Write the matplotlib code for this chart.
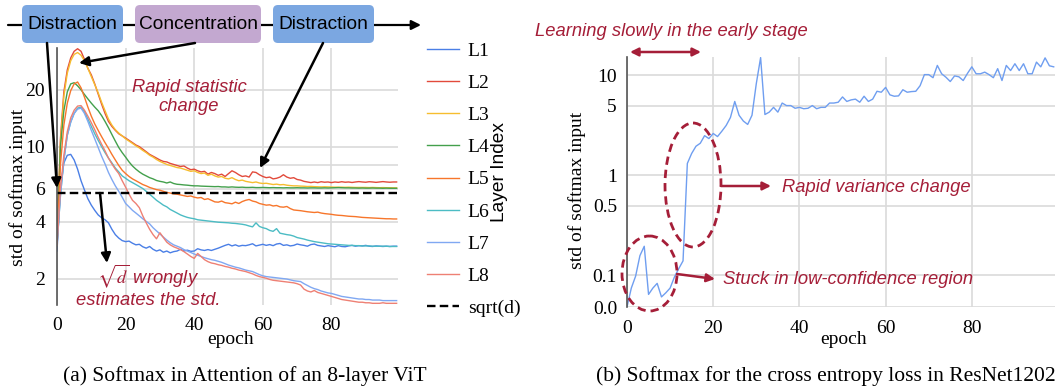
import numpy as np
import matplotlib
matplotlib.use('Agg')
import matplotlib.pyplot as plt
from matplotlib.patches import FancyBboxPatch, Ellipse
from matplotlib.ticker import FixedLocator, NullLocator, FixedFormatter

plt.rcParams['font.family'] = ['Liberation Serif', 'DejaVu Serif']
plt.rcParams['mathtext.fontset'] = 'stix'

# ---------------- data ----------------
epochs = np.arange(100)
layer_names = ['L1', 'L2', 'L3', 'L4', 'L5', 'L6', 'L7', 'L8']

L1 = [2.8, 6.0, 8.2, 9.0, 9.1, 8.5, 7.6, 6.6, 5.9, 5.3,
      4.9, 4.6, 4.35, 4.2, 4.1, 3.95, 3.65, 3.42, 3.28, 3.18,
      3.14, 3.16, 3.08, 3.02, 3.04, 2.95, 2.9, 2.96, 2.86, 2.8,
      2.84, 2.76, 2.8, 2.74, 2.78, 2.8, 2.86, 2.8, 2.83, 2.79,
      2.8, 2.88, 2.84, 2.82, 2.85, 2.82, 2.86, 2.9, 2.95, 3.0,
      3.04, 2.98, 3.02, 2.97, 3.0, 2.99, 3.02, 3.06, 2.98, 3.01,
      3.04, 3.0, 3.03, 2.99, 3.05, 3.07, 3.0, 3.02, 2.98, 3.0,
      3.05, 3.02, 3.0, 2.97, 3.03, 3.05, 3.0, 2.98, 2.96, 2.99,
      2.97, 2.95, 2.99, 2.96, 2.95, 2.98, 3.0, 2.97, 2.99, 2.98,
      3.0, 2.97, 2.96, 2.98, 2.97, 2.96, 2.97, 2.96, 2.97, 2.97]

L2 = [3.0, 11.0, 19.5, 25.5, 29.5, 32.0, 33.0, 32.0, 29.0, 26.0,
      24.0, 21.5, 19.0, 16.8, 15.0, 13.6, 12.8, 12.2, 11.7, 11.4,
      11.1, 10.8, 10.5, 10.2, 10.0, 9.7, 9.4, 9.1, 8.9, 8.7,
      8.5, 8.35, 8.3, 8.15, 8.05, 7.95, 7.85, 7.9, 7.7, 7.55,
      7.6, 7.45, 7.35, 7.4, 7.15, 7.3, 7.2, 7.05, 7.15, 6.95,
      7.2, 7.45, 7.3, 7.1, 6.95, 7.0, 6.9, 7.35, 7.3, 7.1,
      6.95, 6.85, 6.9, 6.75, 6.8, 6.9, 7.1, 6.9, 6.8, 6.85,
      6.7, 6.65, 6.55, 6.5, 6.45, 6.5, 6.45, 6.52, 6.48, 6.5,
      6.45, 6.5, 6.47, 6.52, 6.48, 6.5, 6.46, 6.5, 6.53, 6.5,
      6.48, 6.52, 6.5, 6.47, 6.5, 6.53, 6.5, 6.48, 6.5, 6.5]

L3 = [3.0, 10.5, 18.5, 24.5, 28.5, 30.8, 31.5, 30.5, 28.5, 26.0,
      23.5, 21.3, 19.3, 17.2, 15.5, 14.0, 13.0, 12.3, 11.8, 11.4,
      11.0, 10.7, 10.4, 10.1, 9.85, 9.55, 9.3, 9.0, 8.8, 8.55,
      8.35, 8.2, 8.05, 7.95, 7.85, 7.75, 7.7, 7.6, 7.5, 7.4,
      7.45, 7.3, 7.2, 7.25, 7.05, 7.15, 7.0, 6.9, 6.95, 6.8,
      6.75, 6.85, 6.7, 6.6, 6.65, 6.55, 6.5, 6.45, 6.5, 6.42,
      6.38, 6.4, 6.35, 6.3, 6.33, 6.28, 6.3, 6.25, 6.22, 6.2,
      6.2, 6.18, 6.17, 6.15, 6.16, 6.14, 6.13, 6.12, 6.13, 6.12,
      6.11, 6.1, 6.1, 6.1, 6.09, 6.1, 6.09, 6.08, 6.08, 6.08,
      6.08, 6.07, 6.08, 6.07, 6.06, 6.07, 6.06, 6.06, 6.05, 6.05]

L4 = [3.0, 10.0, 15.5, 19.5, 21.5, 21.8, 21.0, 20.0, 18.9, 17.9,
      17.0, 16.2, 15.5, 14.6, 13.6, 12.6, 11.6, 10.7, 9.9, 9.3,
      8.8, 8.3, 7.9, 7.6, 7.35, 7.15, 7.0, 6.85, 6.75, 6.62,
      6.55, 6.5, 6.42, 6.5, 6.38, 6.32, 6.3, 6.27, 6.25, 6.22,
      6.2, 6.2, 6.18, 6.17, 6.16, 6.15, 6.14, 6.15, 6.12, 6.12,
      6.1, 6.12, 6.1, 6.09, 6.1, 6.08, 6.08, 6.09, 6.07, 6.07,
      6.08, 6.07, 6.06, 6.07, 6.06, 6.06, 6.05, 6.06, 6.05, 6.05,
      6.06, 6.05, 6.05, 6.04, 6.05, 6.05, 6.04, 6.04, 6.05, 6.04,
      6.05, 6.06, 6.07, 6.06, 6.05, 6.05, 6.04, 6.04, 6.03, 6.04,
      6.03, 6.03, 6.04, 6.03, 6.03, 6.02, 6.03, 6.02, 6.02, 6.02]

L5 = [3.0, 8.0, 13.0, 17.0, 19.8, 21.5, 22.0, 20.5, 18.3, 16.2,
      14.5, 13.2, 12.2, 11.3, 10.5, 9.8, 9.1, 8.5, 7.95, 7.5,
      7.2, 6.95, 6.75, 6.6, 6.45, 6.3, 6.2, 6.08, 6.0, 5.92,
      5.88, 5.8, 5.72, 5.68, 5.62, 5.6, 5.55, 5.5, 5.45, 5.48,
      5.4, 5.35, 5.38, 5.25, 5.3, 5.2, 5.1, 5.08, 5.15, 5.05,
      5.02, 4.98, 5.08, 5.0, 5.12, 5.2, 5.25, 5.15, 5.1, 5.0,
      4.95, 4.9, 4.92, 4.85, 4.88, 4.8, 4.78, 4.82, 4.7, 4.62,
      4.6, 4.58, 4.55, 4.52, 4.5, 4.48, 4.5, 4.45, 4.42, 4.4,
      4.38, 4.35, 4.33, 4.32, 4.3, 4.28, 4.27, 4.26, 4.24, 4.22,
      4.21, 4.2, 4.19, 4.18, 4.17, 4.16, 4.15, 4.15, 4.14, 4.14]

L6 = [3.0, 5.5, 8.5, 11.5, 13.5, 15.0, 16.0, 16.2, 15.3, 14.0,
      12.8, 11.7, 10.8, 10.0, 9.3, 8.7, 8.2, 7.7, 7.35, 7.0,
      6.8, 6.6, 6.45, 6.3, 6.15, 6.0, 5.8, 5.6, 5.4, 5.2,
      5.05, 4.9, 4.8, 4.65, 4.55, 4.45, 4.35, 4.28, 4.22, 4.18,
      4.15, 4.1, 4.08, 4.06, 4.04, 4.02, 4.0, 3.98, 3.97, 3.96,
      3.95, 3.93, 3.92, 3.9, 3.88, 3.85, 3.8, 3.76, 3.95, 3.78,
      3.72, 3.68, 3.6, 3.56, 3.68, 3.48, 3.45, 3.42, 3.4, 3.36,
      3.3, 3.27, 3.24, 3.2, 3.17, 3.14, 3.12, 3.1, 3.08, 3.06,
      3.05, 3.04, 3.03, 3.02, 3.01, 3.0, 3.0, 2.99, 2.99, 2.98,
      2.98, 2.98, 2.97, 2.97, 2.97, 2.97, 2.97, 2.96, 2.96, 2.96]

L7 = [3.0, 5.5, 8.5, 11.5, 13.5, 15.0, 15.8, 16.0, 15.0, 13.6,
      12.2, 11.0, 9.9, 8.9, 8.1, 7.3, 6.7, 6.2, 5.8, 5.4,
      5.0, 4.8, 4.6, 4.45, 4.3, 4.15, 4.02, 3.9, 3.72, 3.58,
      3.45, 3.32, 3.2, 3.1, 3.02, 2.97, 2.92, 2.85, 2.8, 2.75,
      2.7, 2.66, 2.62, 2.58, 2.55, 2.52, 2.5, 2.47, 2.44, 2.4,
      2.36, 2.33, 2.3, 2.28, 2.25, 2.22, 2.2, 2.18, 2.14, 2.1,
      2.07, 2.05, 2.04, 2.03, 2.02, 2.01, 2.0, 1.99, 1.97, 1.95,
      1.94, 1.93, 1.88, 1.84, 1.8, 1.77, 1.75, 1.72, 1.7, 1.68,
      1.67, 1.65, 1.63, 1.61, 1.6, 1.59, 1.58, 1.57, 1.56, 1.56,
      1.55, 1.55, 1.54, 1.54, 1.54, 1.53, 1.53, 1.53, 1.53, 1.53]

L8 = [3.0, 6.0, 9.0, 12.0, 14.2, 15.6, 16.4, 16.5, 15.6, 14.5,
      13.4, 12.3, 11.2, 10.3, 9.5, 8.7, 8.1, 7.6, 7.2, 6.6,
      6.1, 5.6, 5.2, 5.0, 4.75, 4.3, 3.95, 3.65, 3.42, 3.25,
      3.5, 3.3, 3.12, 3.02, 2.95, 2.9, 2.85, 2.78, 2.7, 2.62,
      2.56, 2.72, 2.62, 2.52, 2.46, 2.42, 2.4, 2.37, 2.35, 2.32,
      2.3, 2.27, 2.25, 2.22, 2.2, 2.18, 2.15, 2.12, 2.08, 2.05,
      2.03, 2.01, 1.98, 1.96, 1.95, 1.94, 1.93, 1.92, 1.91, 1.9,
      1.88, 1.85, 1.76, 1.72, 1.7, 1.73, 1.69, 1.67, 1.65, 1.63,
      1.61, 1.59, 1.57, 1.55, 1.54, 1.53, 1.52, 1.51, 1.5, 1.5,
      1.49, 1.49, 1.48, 1.48, 1.48, 1.49, 1.48, 1.48, 1.48, 1.48]

layer_series = [L1, L2, L3, L4, L5, L6, L7, L8]
sqrt_d = np.sqrt(32)

resnet_std = [0.0, 0.06, 0.098, 0.158, 0.196, 0.04, 0.06, 0.075, 0.032, 0.045,
              0.06, 0.095, 0.117, 0.14, 1.32, 1.66, 1.96, 2.1, 2.5, 2.34,
              2.63, 2.45, 2.77, 3.16, 3.8, 5.5, 4.0, 3.5, 3.24, 4.0,
              8.3, 15.1, 4.07, 4.3, 4.8, 4.3, 5.3, 5.0, 5.0, 4.7,
              4.8, 4.65, 4.7, 5.0, 4.65, 4.8, 4.8, 5.3, 5.3, 5.4,
              6.1, 5.5, 5.7, 5.8, 5.4, 6.2, 5.5, 5.8, 6.95, 6.8,
              7.6, 6.4, 6.2, 6.25, 7.2, 6.8, 6.9, 6.95, 7.9, 10.2,
              10.2, 9.5, 12.6, 10.4, 9.6, 8.7, 9.9, 9.7, 8.9, 10.5,
              12.2, 10.4, 10.4, 10.8, 10.2, 9.5, 11.7, 8.9, 12.6, 11.2,
              13.1, 11.2, 13.1, 10.4, 10.4, 13.6, 12.2, 15.0, 12.5, 12.2]

left_yticks = [2, 4, 6, 8, 10, 20]
left_yticklabels = ['2', '4', '6', '', '10', '20']
right_yticks = [0, 0.1, 0.5, 1, 5, 10]
right_yticklabels = ['0.0', '0.1', '0.5', '1', '5', '10']
xticks = [0, 20, 40, 60, 80]

# ---------------- style ----------------
layer_colors = ['#4a7fe6', '#e24a3b', '#f6bd2f', '#43a04c', '#f7762b',
                '#4cbcc4', '#80a8f2', '#ee8074']
resnet_color = '#6f9ef0'
crimson = '#a51e38'
grid_c = '#dadada'
W, H = 1055, 391

fig = plt.figure(figsize=(W / 100, H / 100), dpi=100)

def frac_box(x0, y0, x1, y1):
    return [x0 / W, (H - y1) / H, (x1 - x0) / W, (y1 - y0) / H]

axL = fig.add_axes(frac_box(57, 48, 398, 305))
axR = fig.add_axes(frac_box(627, 57, 1055, 307))

# ---- left panel ----
handles = []
for name, vals, c in zip(layer_names, layer_series, layer_colors):
    h, = axL.plot(epochs, vals, color=c, lw=1.0, label=name)
    handles.append(h)
hd = axL.axhline(sqrt_d, color='k', lw=1.7, ls=(0, (3.6, 1.8)), label='sqrt(d)')
handles.append(hd)
axL.set_yscale('log')
axL.set_ylim(1.45, 33.3)
axL.set_xlim(0, 99.4)
axL.yaxis.set_major_locator(FixedLocator(left_yticks))
axL.yaxis.set_major_formatter(FixedFormatter(left_yticklabels))
axL.yaxis.set_minor_locator(NullLocator())
axL.set_xticks(xticks)

for ax in (axL, axR):
    ax.grid(True, color=grid_c, lw=1.2)
    ax.set_axisbelow(True)
    for s in ('top', 'right', 'bottom'):
        ax.spines[s].set_visible(False)
    ax.spines['left'].set_color('#555555')
    ax.spines['left'].set_linewidth(1.2)
    ax.tick_params(length=0, labelsize=14)
    ax.set_facecolor('none')

axL.tick_params(axis='y', pad=8.6)
axL.tick_params(axis='x', pad=9)
axL.set_xlabel('epoch', fontsize=14, va='center')
axL.xaxis.set_label_coords(0.51, -(339 - 305) / 257)
axL.set_ylabel('std of softmax input', fontsize=14, va='center')
axL.yaxis.set_label_coords((18 - 57) / 341, (305 - 187) / 257)

# ---- right panel ----
axR.plot(epochs, resnet_std, color=resnet_color, lw=1.0)
axR.set_yscale('symlog', linthresh=0.1, linscale=0.2835)
axR.set_ylim(0, 15.3)
axR.set_xlim(0, 99.3)
axR.yaxis.set_major_locator(FixedLocator(right_yticks))
axR.yaxis.set_major_formatter(FixedFormatter(right_yticklabels))
axR.yaxis.set_minor_locator(NullLocator())
axR.set_xticks(xticks)
axR.tick_params(axis='y', pad=7.2)
axR.tick_params(axis='x', pad=9.7)
axR.set_xlabel('epoch', fontsize=14, va='center')
axR.xaxis.set_label_coords(0.505, -(339 - 307) / 250)
axR.set_ylabel('std of softmax input', fontsize=14, va='center')
axR.yaxis.set_label_coords((577 - 627) / 428, (307 - 190) / 250)

# ---- legend ----
fig.legend(handles, [h.get_label() for h in handles], loc='upper left',
           bbox_to_anchor=(427 / W, 1 - 42 / H), frameon=False, fontsize=14,
           handlelength=1.65, handletextpad=0.45, labelspacing=0.75,
           borderpad=0, borderaxespad=0)

# ---- overlay for annotations (pixel coordinates) ----
ov = fig.add_axes([0, 0, 1, 1], zorder=10)
ov.set_xlim(0, W)
ov.set_ylim(H, 0)
ov.axis('off')
ov.patch.set_alpha(0)

sans = ['Liberation Sans', 'DejaVu Sans']

ov.text(500, 172, 'Layer Index', rotation=90, ha='center', va='center',
        fontsize=13.8, family=sans)

# timeline
ov.annotate('', xy=(421, 25), xytext=(8, 25),
            arrowprops=dict(arrowstyle='-|>', lw=1.6, color='k',
                            mutation_scale=14, shrinkA=0, shrinkB=0))
boxes = [(22, 123, 'Distraction', '#7ba7e1'),
         (135, 261, 'Concentration', '#c3a8d0'),
         (273, 374, 'Distraction', '#7ba7e1')]
for x0, x1, label, fc in boxes:
    ov.add_patch(FancyBboxPatch((x0, 5), x1 - x0, 38,
                                boxstyle='round,pad=0,rounding_size=5',
                                fc=fc, ec='none', zorder=3))
    ov.text((x0 + x1) / 2, 24.5, label, ha='center', va='center',
            fontsize=13.8, family=sans, zorder=4)

black_arrows = [((47, 43), (57, 188)), ((195, 43), (79, 63)),
                ((323, 43), (260, 168)), ((100, 193), (107, 263))]
for (sx, sy), (ex, ey) in black_arrows:
    ov.annotate('', xy=(ex, ey), xytext=(sx, sy),
                arrowprops=dict(arrowstyle='-|>', lw=1.8, color='k',
                                mutation_scale=14, shrinkA=0, shrinkB=0))

ov.text(189, 97, 'Rapid statistic\nchange', ha='center', va='center',
        fontsize=13.2, style='italic', family=sans, color=crimson,
        linespacing=1.12)
ov.text(148, 286, '$\\sqrt{d}$ wrongly\nestimates the std.', ha='center',
        va='center', fontsize=13.2, style='italic', family=sans,
        color=crimson, linespacing=1.15)

# right annotations
ov.text(535, 32, 'Learning slowly in the early stage', ha='left', va='center',
        fontsize=13.2, style='italic', family=sans, color=crimson)
ov.annotate('', xy=(701, 52), xytext=(630, 52),
            arrowprops=dict(arrowstyle='<|-|>', lw=1.8, color=crimson,
                            mutation_scale=12, shrinkA=0, shrinkB=0))
ov.add_patch(Ellipse((649.5, 273.5), 55, 75, fill=False, ec=crimson, lw=2,
                     ls=(0, (3.0, 1.8))))
ov.add_patch(Ellipse((693, 185), 56, 124, fill=False, ec=crimson, lw=2,
                     ls=(0, (3.0, 1.8))))
ov.annotate('', xy=(771, 186), xytext=(721, 186),
            arrowprops=dict(arrowstyle='-|>', lw=1.8, color=crimson,
                            mutation_scale=12, shrinkA=0, shrinkB=0))
ov.text(782, 187, 'Rapid variance change', ha='left', va='center',
        fontsize=13.2, style='italic', family=sans, color=crimson)
ov.annotate('', xy=(715, 279), xytext=(677, 274),
            arrowprops=dict(arrowstyle='-|>', lw=1.8, color=crimson,
                            mutation_scale=12, shrinkA=0, shrinkB=0))
ov.text(723, 280, 'Stuck in low-confidence region', ha='left', va='center',
        fontsize=13.2, style='italic', family=sans, color=crimson)

# captions
ov.text(245, 376, '(a) Softmax in Attention of an 8-layer ViT', ha='center',
        va='center', fontsize=15.5)
ov.text(826, 376, '(b) Softmax for the cross entropy loss in ResNet1202',
        ha='center', va='center', fontsize=15.5)

fig.savefig('out.png', dpi=100)
